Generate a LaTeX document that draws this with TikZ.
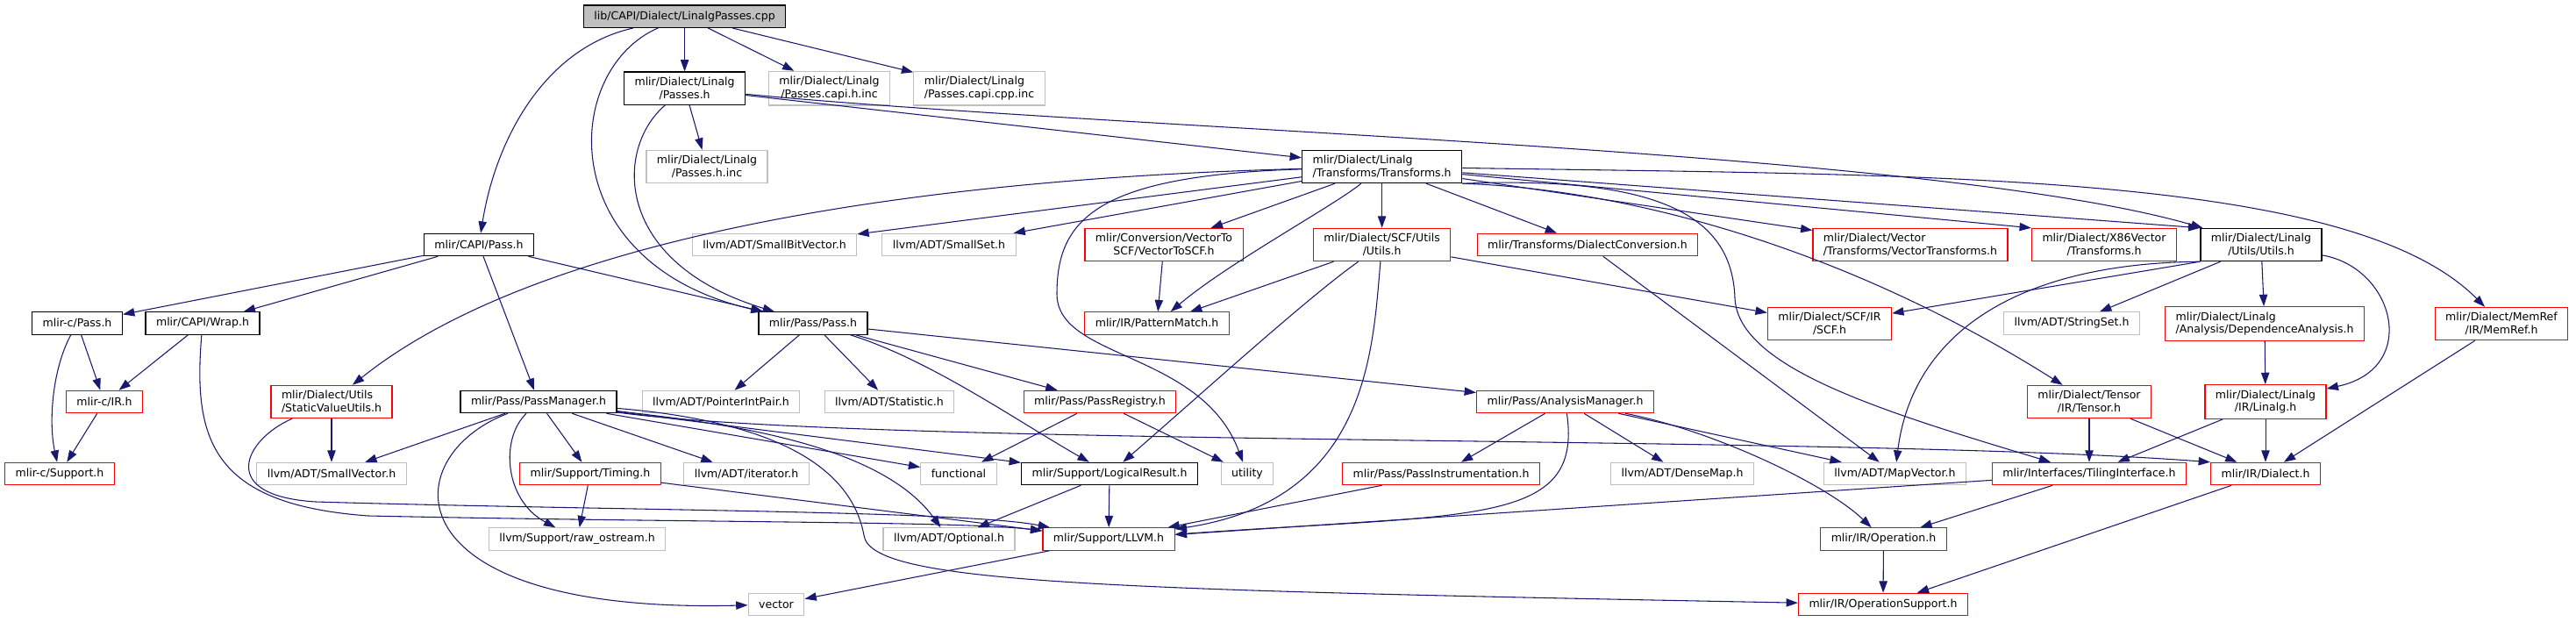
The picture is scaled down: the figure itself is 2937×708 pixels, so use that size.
\documentclass[tikz,border=0pt]{standalone}
\usepackage{fontspec}
\setmainfont{DejaVu Sans}
\usetikzlibrary{arrows.meta}
\definecolor{edgeblue}{HTML}{191970}
\definecolor{missred}{HTML}{FF0000}
\definecolor{sysgrey}{HTML}{BFBFBF}

\begin{document}
\begin{tikzpicture}[
    x=0.75pt, y=-0.75pt,
    file/.style={
        rectangle, draw=black, line width=0.9pt, fill=white,
        minimum height=19pt, inner xsep=9pt, inner ysep=4.5pt,
        font=\fontsize{9.4}{10.9}\selectfont, align=center
    },
    redfile/.style={file, draw=missred},
    sysfile/.style={file, draw=sysgrey},
    rootfile/.style={file, draw=black, fill=sysgrey},
    arr/.style={-{Triangle[length=10pt, width=7pt]}, line width=0.8pt, edgeblue},
]
\useasboundingbox (0,0) rectangle (2937,708);

% Nodes, rank by rank
\node[rootfile] (root) at (780.6,18.7) {lib/CAPI/Dialect/LinalgPasses.cpp};

\node[file] (passesh) at (780.6,100.7) {mlir/Dialect/Linalg\\/Passes.h};
\node[sysfile] (capih) at (945.5,100.7) {mlir/Dialect/Linalg\\/Passes.capi.h.inc};
\node[sysfile, align=left] (capicpp) at (1116.5,100.7) {mlir/Dialect/Linalg\\/Passes.capi.cpp.inc};

\node[sysfile] (passesinc) at (806,190) {mlir/Dialect/Linalg\\/Passes.h.inc};
\node[file, align=left] (transforms) at (1575.6,190) {mlir/Dialect/Linalg\\/Transforms/Transforms.h};

\node[file] (capipass) at (546,279) {mlir/CAPI/Pass.h};
\node[sysfile] (smallbitvec) at (883,279) {llvm/ADT/SmallBitVector.h};
\node[sysfile] (smallset) at (1082,279) {llvm/ADT/SmallSet.h};
\node[redfile] (vec2scf) at (1327,279) {mlir/Conversion/VectorTo\\SCF/VectorToSCF.h};
\node[redfile] (scfutils) at (1575.6,279) {mlir/Dialect/SCF/Utils\\/Utils.h};
\node[redfile] (dialconv) at (1810,279) {mlir/Transforms/DialectConversion.h};
\node[redfile, align=left] (vectrans) at (2178,279) {mlir/Dialect/Vector\\/Transforms/VectorTransforms.h};
\node[redfile] (x86) at (2399,279) {mlir/Dialect/X86Vector\\/Transforms.h};
\node[file] (linutils) at (2578,279) {mlir/Dialect/Linalg\\/Utils/Utils.h};

\node[file] (cpass) at (88,368.5) {mlir-c/Pass.h};
\node[file] (wrap) at (231,368.5) {mlir/CAPI/Wrap.h};
\node[file] (passh) at (927,368.5) {mlir/Pass/Pass.h};
\node[redfile] (patmatch) at (1319,368.5) {mlir/IR/PatternMatch.h};
\node[redfile] (scfir) at (2086,369) {mlir/Dialect/SCF/IR\\/SCF.h};
\node[sysfile] (stringset) at (2362,368.5) {llvm/ADT/StringSet.h};
\node[redfile, align=left] (depan) at (2582,369) {mlir/Dialect/Linalg\\/Analysis/DependenceAnalysis.h};
\node[redfile] (memref) at (2852,369) {mlir/Dialect/MemRef\\/IR/MemRef.h};

\node[redfile] (cir) at (119,458) {mlir-c/IR.h};
\node[redfile, align=left] (staticval) at (378,458) {mlir/Dialect/Utils\\/StaticValueUtils.h};
\node[file] (passmgr) at (614,458) {mlir/Pass/PassManager.h};
\node[sysfile] (ptrint) at (822,458) {llvm/ADT/PointerIntPair.h};
\node[sysfile] (statistic) at (1014,458) {llvm/ADT/Statistic.h};
\node[redfile] (passreg) at (1254,458) {mlir/Pass/PassRegistry.h};
\node[redfile] (analysis) at (1784.5,458) {mlir/Pass/AnalysisManager.h};
\node[redfile] (tensor) at (2382,458) {mlir/Dialect/Tensor\\/IR/Tensor.h};
\node[redfile] (linalgh) at (2583,458) {mlir/Dialect/Linalg\\/IR/Linalg.h};

\node[redfile] (csupport) at (68,540) {mlir-c/Support.h};
\node[sysfile] (smallvec) at (378,540) {llvm/ADT/SmallVector.h};
\node[redfile] (timing) at (673,540) {mlir/Support/Timing.h};
\node[sysfile] (iterator) at (851,540) {llvm/ADT/iterator.h};
\node[sysfile] (functional) at (1093,540) {functional};
\node[file] (logical) at (1265,540) {mlir/Support/LogicalResult.h};
\node[sysfile] (utility) at (1422,540) {utility};
\node[redfile] (passinstr) at (1643,540) {mlir/Pass/PassInstrumentation.h};
\node[sysfile] (densemap) at (1918,540) {llvm/ADT/DenseMap.h};
\node[sysfile] (mapvec) at (2160.5,540) {llvm/ADT/MapVector.h};
\node[redfile] (tiling) at (2382,540) {mlir/Interfaces/TilingInterface.h};
\node[redfile] (dialect) at (2583,540) {mlir/IR/Dialect.h};

\node[sysfile] (rawos) at (658,614.5) {llvm/Support/raw\_ostream.h};
\node[sysfile] (optional) at (1082,614.5) {llvm/ADT/Optional.h};
\node[redfile] (llvmh) at (1264,614.5) {mlir/Support/LLVM.h};
\node[redfile] (operation) at (2147.5,614.5) {mlir/IR/Operation.h};

\node[sysfile] (vector) at (885,689) {vector};
\node[redfile] (opsupport) at (2147,689) {mlir/IR/OperationSupport.h};

% Source file includes
\draw[arr] (root) .. controls (620,55) and (565,160) .. (capipass);
\draw[arr] (root) -- (passesh);
\draw[arr] (root) -- (capih);
\draw[arr] (root) -- (capicpp);
\draw[arr] (root) .. controls (640,80) and (630,300) .. (passh);

% Passes.h
\draw[arr] (passesh) -- (passesinc);
\draw[arr] (passesh) -- (transforms);
\draw[arr] (passesh) .. controls (1300,150) and (2200,170) .. (linutils);
\draw[arr] (passesh) .. controls (700,170) and (700,300) .. (passh);

% Transforms.h
\draw[arr] (transforms) -- (smallbitvec);
\draw[arr] (transforms) -- (smallset);
\draw[arr] (transforms) .. controls (1000,205) and (600,280) .. (staticval);
\draw[arr] (transforms) .. controls (1250,200) and (1205,250) .. (1205,335)
    .. controls (1205,410) and (1370,400) .. (utility);
\draw[arr] (transforms) -- (vec2scf);
\draw[arr] (transforms) .. controls (1520,235) and (1400,300) .. (patmatch);
\draw[arr] (transforms) -- (scfutils);
\draw[arr] (transforms) -- (dialconv);
\draw[arr] (transforms.south east) .. controls (1850,215) and (2100,280) .. (tensor);
\draw[arr] (transforms.south east) .. controls (1900,200) and (1975,250) .. (1978,340)
    .. controls (1982,420) and (2150,470) .. (tiling);
\draw[arr] (transforms) -- (vectrans);
\draw[arr] (transforms) -- (x86.north west);
\draw[arr] (transforms) -- (linutils.north west);
\draw[arr] (transforms) .. controls (2200,200) and (2680,195) .. (memref);

% CAPI/Pass.h
\draw[arr] (capipass) -- (cpass);
\draw[arr] (capipass) -- (wrap);
\draw[arr] (capipass) -- (passmgr);
\draw[arr] (capipass) -- (passh);

% mlir-c and Wrap.h
\draw[arr] (cpass) -- (cir);
\draw[arr] (cpass) .. controls (60,420) and (55,480) .. (csupport);
\draw[arr] (cir) -- (csupport);
\draw[arr] (wrap) -- (cir);
\draw[arr] (wrap) .. controls (220,500) and (240,575) .. (420,588)
    .. controls (800,596) and (1100,594) .. (llvmh);

% StaticValueUtils.h
\draw[arr] (staticval) -- (smallvec);
\draw[arr] (staticval) .. controls (280,500) and (245,565) .. (360,572)
    .. controls (700,582) and (1100,582) .. (llvmh);

% PassManager.h
\draw[arr] (passmgr) -- (smallvec);
\draw[arr] (passmgr) .. controls (570,500) and (575,570) .. (rawos);
\draw[arr] (passmgr) .. controls (450,520) and (440,700) .. (vector);
\draw[arr] (passmgr) -- (timing);
\draw[arr] (passmgr) -- (iterator);
\draw[arr] (passmgr) -- (functional);
\draw[arr] (passmgr) -- (logical);
\draw[arr] (passmgr) .. controls (800,480) and (1000,500) .. (optional);
\draw[arr] (passmgr) .. controls (880,480) and (970,530) .. (985,610)
    .. controls (992,665) and (1250,672) .. (opsupport);
\draw[arr] (passmgr) .. controls (1000,510) and (2100,495) .. (dialect.north west);

% Pass.h
\draw[arr] (passh) -- (ptrint);
\draw[arr] (passh) -- (statistic);
\draw[arr] (passh) -- (passreg);
\draw[arr] (passh) .. controls (1060,410) and (1160,480) .. (logical);
\draw[arr] (passh) -- (analysis);

% PassRegistry.h
\draw[arr] (passreg) -- (functional);
\draw[arr] (passreg) -- (utility);

% Support headers
\draw[arr] (timing) -- (rawos);
\draw[arr] (timing) -- (llvmh);
\draw[arr] (logical) -- (llvmh);
\draw[arr] (logical) -- (optional);
\draw[arr] (llvmh) -- (vector);

% SCF and conversion headers
\draw[arr] (vec2scf) -- (patmatch);
\draw[arr] (scfutils) -- (patmatch);
\draw[arr] (scfutils) .. controls (1490,340) and (1380,440) .. (logical);
\draw[arr] (scfutils) .. controls (1565,400) and (1560,570) .. (llvmh);
\draw[arr] (scfutils) -- (scfir);
\draw[arr] (dialconv) -- (mapvec);

% AnalysisManager.h
\draw[arr] (analysis) -- (passinstr);
\draw[arr] (analysis) .. controls (1805,600) and (1680,585) .. (llvmh);
\draw[arr] (analysis) -- (densemap);
\draw[arr] (analysis) -- (mapvec);
\draw[arr] (analysis) .. controls (1950,490) and (2080,550) .. (operation);
\draw[arr] (passinstr) -- (llvmh);

% Linalg Utils.h
\draw[arr] (linutils.south west) -- (scfir);
\draw[arr] (linutils.south west) .. controls (2300,300) and (2180,380) .. (mapvec);
\draw[arr] (linutils) -- (stringset);
\draw[arr] (linutils) -- (depan);
\draw[arr] (linutils) .. controls (2730,305) and (2760,420) .. (linalgh);

% IR and interfaces
\draw[arr] (depan) -- (linalgh);
\draw[arr] (linalgh) -- (tiling);
\draw[arr] (linalgh) -- (dialect);
\draw[arr] (tensor) -- (tiling);
\draw[arr] (tensor) -- (dialect);
\draw[arr] (memref) -- (dialect);
\draw[arr] (tiling) -- (operation);
\draw[arr] (tiling) -- (llvmh);
\draw[arr] (dialect) -- (opsupport);
\draw[arr] (operation) -- (opsupport);

\end{tikzpicture}
\end{document}
